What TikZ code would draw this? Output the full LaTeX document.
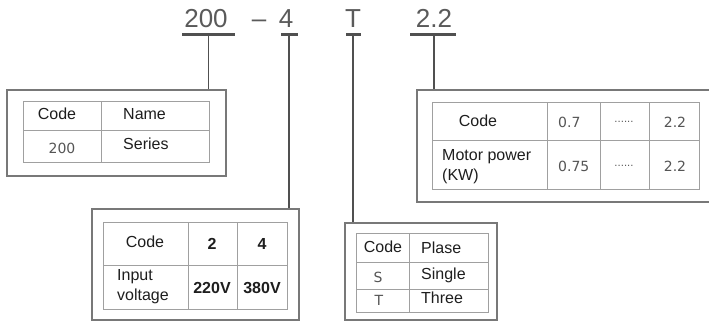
\documentclass[tikz,border=0pt]{standalone}
\usepackage{fontspec}
\setmainfont{Liberation Sans}
\newfontfamily\numfont{DejaVu Sans}
\definecolor{topgray}{HTML}{5A5A5A}
\definecolor{linegray}{HTML}{505050}
\definecolor{boxgray}{HTML}{787878}
\definecolor{gridgray}{HTML}{A0A0A0}
\definecolor{txt}{HTML}{1E1E1E}
\definecolor{numgray}{HTML}{555555}
\tikzset{
  toptext/.style={anchor=base, inner sep=0pt, text=topgray, font=\fontsize{26}{30}\selectfont},
  bar/.style={draw=linegray, line width=3pt},
  conn/.style={draw=linegray, line width=1.2pt},
  outerbox/.style={draw=boxgray, line width=1.2pt},
  grid/.style={draw=gridgray, line width=0.9pt},
  cell/.style={inner sep=0pt, text=txt, font=\fontsize{16}{19}\selectfont},
  numcell/.style={inner sep=0pt, text=numgray, font=\numfont\fontsize{14}{17}\selectfont},
  dotcell/.style={inner sep=0pt, text=numgray, font=\numfont\fontsize{10}{12}\selectfont},
  boldcell/.style={inner sep=0pt, text=txt, font=\bfseries\fontsize{16}{19}\selectfont},
}
\begin{document}
\begin{tikzpicture}[x=1pt,y=-1pt]
\clip (0,0) rectangle (709,321);
\fill[white] (0,0) rectangle (709,321);
% top code
\node[toptext] (t200) at (206,28) {200};
\node[toptext] (tdash) at (259,28) {–};
\node[toptext] (t4) at (286,28) {4};
\node[toptext] (tT) at (353,28) {T};
\node[toptext] (t22) at (434,28) {2.2};
% bars
\draw[bar] (182,35) -- (235,35);
\draw[bar] (281,35) -- (298,35);
\draw[bar] (346,35) -- (361,35);
\draw[bar] (410,35) -- (456,35);
\coordinate (b1) at (208.5,35);
\coordinate (b2) at (289,35);
\coordinate (b3) at (353,35);
\coordinate (b4) at (434,35);
% boxes
\node[outerbox, minimum width=219pt, minimum height=86pt, inner sep=0pt] (box1) at (116.5,133) {};
\node[outerbox, minimum width=207pt, minimum height=111pt, inner sep=0pt] (box2) at (195.5,264.5) {};
\node[outerbox, minimum width=152pt, minimum height=97pt, inner sep=0pt] (box3) at (421,271.5) {};
\node[outerbox, minimum width=300pt, minimum height=112pt, inner sep=0pt] (box4) at (567,146) {};
% connectors
\draw[conn] (b1) -- (b1 |- box1.north);
\draw[conn] (b2) -- (b2 |- box2.north);
\draw[conn] (b3) -- (b3 |- box3.north);
\draw[conn] (b4) -- (b4 |- box4.north);
% table 1
\draw[grid] (23,101) rectangle (209,162);
\draw[grid] (23,130) -- (209,130);
\draw[grid] (101,101) -- (101,162);
\node[cell] (c1a) at (57,114) {Code};
\node[cell, anchor=west] (c1b) at (123,114) {Name};
\node[numcell] (c1c) at (62,148) {200};
\node[cell, anchor=west] (c1d) at (123,144) {Series};
% table 2
\draw[grid] (103,222) rectangle (287,309);
\draw[grid] (103,265) -- (287,265);
\draw[grid] (188,222) -- (188,309);
\draw[grid] (237,222) -- (237,309);
\node[cell] (c2a) at (145,242) {Code};
\node[boldcell] (c2b) at (212,244) {2};
\node[boldcell] (c2c) at (262,244) {4};
\node[cell, anchor=west, align=left, font=\fontsize{16}{20}\selectfont] (c2d) at (117,287) {Input\\voltage};
\node[boldcell] (c2e) at (212,288) {220V};
\node[boldcell] (c2f) at (262,288) {380V};
% table 3
\draw[grid] (356,233) rectangle (488,312);
\draw[grid] (356,262) -- (488,262);
\draw[grid] (356,289) -- (488,289);
\draw[grid] (409,233) -- (409,312);
\node[cell] (c3a) at (383,247) {Code};
\node[cell, anchor=west] (c3b) at (421,248) {Plase};
\node[numcell] (c3c) at (378,277) {S};
\node[cell, anchor=west] (c3d) at (421,275) {Single};
\node[numcell] (c3e) at (379,300) {T};
\node[cell, anchor=west] (c3f) at (421,298) {Three};
% table 4
\draw[grid] (432,102) rectangle (699,189);
\draw[grid] (432,140) -- (699,140);
\draw[grid] (547,102) -- (547,189);
\draw[grid] (600,102) -- (600,189);
\draw[grid] (649,102) -- (649,189);
\node[cell] (c4a) at (478,121) {Code};
\node[numcell, anchor=west] (c4b) at (558,122) {0.7};
\node[dotcell] (c4c) at (624,122) {......};
\node[numcell] (c4d) at (675,122) {2.2};
\node[cell, anchor=west, align=left, font=\fontsize{16}{20}\selectfont] (c4e) at (442,167) {Motor power\\(KW)};
\node[numcell, anchor=west] (c4f) at (558,166) {0.75};
\node[dotcell] (c4g) at (624,166) {......};
\node[numcell] (c4h) at (675,166) {2.2};
\end{tikzpicture}
\end{document}
